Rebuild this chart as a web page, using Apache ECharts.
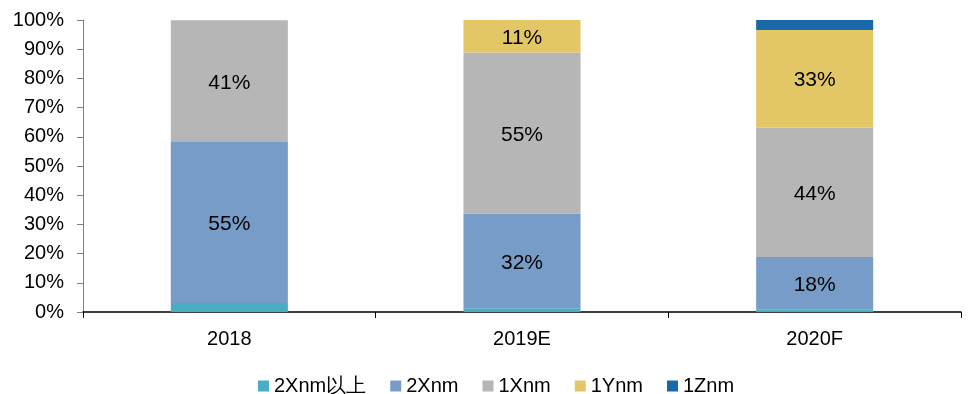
<!DOCTYPE html>
<html>
<head>
<meta charset="utf-8">
<style>
  html, body { margin: 0; padding: 0; background: #fff; }
  #chart { width: 971px; height: 394px; }
</style>
<script src="https://cdn.jsdelivr.net/npm/echarts@6/dist/echarts.min.js"></script>
</head>
<body>
<div id="chart"></div>
<script>
// Process-node share by year (percent of total)
const categories = ['2018', '2019E', '2020F'];
const seriesNames = ['2Xnm以上', '2Xnm', '1Xnm', '1Ynm', '1Znm'];
const share2XnmPlus = [3.1, 1.3, 0.9];
const share2Xnm = [55.4, 32.4, 17.9];
const share1Xnm = [41.4, 55.2, 44.4];
const share1Ynm = [0, 11.1, 33.4];
const share1Znm = [0, 0, 3.4];
const yTicks = [0, 10, 20, 30, 40, 50, 60, 70, 80, 90, 100];

const colors = ['#4AADC3', '#779CC8', '#B6B6B6', '#E3C766', '#1968A7'];
const seriesData = [share2XnmPlus, share2Xnm, share1Xnm, share1Ynm, share1Znm];
// labels shown only on the larger segments
const labelled = [false, true, true, true, false];

const font = 'Arial, "Liberation Sans", sans-serif';

const chart = echarts.init(document.getElementById('chart'));
chart.setOption({
  animation: false,
  color: colors,
  textStyle: { fontFamily: font },
  grid: { left: 83, right: 10, top: 20, bottom: 82, containLabel: false },
  legend: {
    top: 376,
    left: 258,
    padding: 0,
    itemWidth: 11,
    itemHeight: 11,
    itemGap: 24,
    icon: 'rect',
    textStyle: { fontSize: 20, color: '#000', fontFamily: font },
    data: seriesNames
  },
  xAxis: {
    type: 'category',
    data: categories,
    axisLine: { lineStyle: { color: '#000', width: 1.5 } },
    axisTick: { show: true, length: 6, lineStyle: { color: '#000' } },
    axisLabel: { fontSize: 20, color: '#000', margin: 17 },
    splitLine: { show: false }
  },
  yAxis: {
    type: 'value',
    min: yTicks[0],
    max: yTicks[yTicks.length - 1],
    interval: 10,
    axisLine: { show: true, lineStyle: { color: '#808080', width: 1 } },
    axisTick: { show: true, length: 6, lineStyle: { color: '#808080' } },
    axisLabel: { fontSize: 20, color: '#000', margin: 19, formatter: v => v + '%' },
    splitLine: { show: false }
  },
  series: seriesNames.map((name, i) => ({
    name: name,
    type: 'bar',
    stack: 'total',
    barWidth: '40%',
    data: seriesData[i],
    itemStyle: { color: colors[i] },
    label: {
      show: labelled[i],
      position: 'inside',
      offset: [0, 2],
      fontSize: 21,
      color: '#000',
      fontFamily: font,
      formatter: p => (p.value >= 5 ? Math.round(p.value) + '%' : '')
    }
  }))
});
</script>
</body>
</html>
